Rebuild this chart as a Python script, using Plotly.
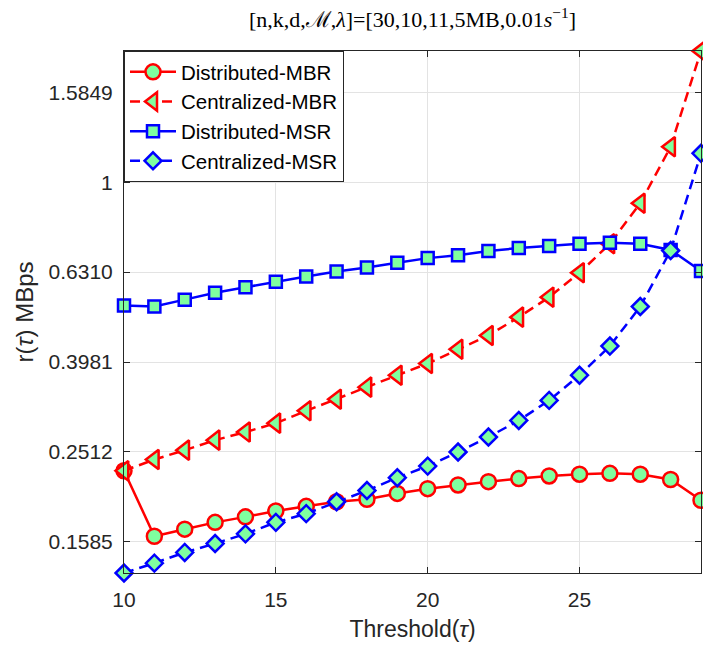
import plotly.graph_objects as go
import numpy as np

# Threshold values (x axis)
threshold = list(range(10, 30))

# Rates r(tau) in MBps for each scheme
distributed_mbr = [0.228, 0.163, 0.169, 0.175, 0.180, 0.1855, 0.190, 0.1945, 0.197, 0.203,
                   0.208, 0.212, 0.2156, 0.219, 0.222, 0.224, 0.225, 0.224, 0.218, 0.196]
centralized_mbr = [0.228, 0.2415, 0.2534, 0.2667, 0.278, 0.291, 0.310, 0.329, 0.350, 0.372,
                   0.395, 0.425, 0.456, 0.501, 0.555, 0.629, 0.730, 0.898, 1.20, 1.96]
distributed_msr = [0.532, 0.529, 0.548, 0.568, 0.584, 0.601, 0.617, 0.633, 0.646, 0.662,
                   0.678, 0.688, 0.703, 0.714, 0.721, 0.730, 0.734, 0.730, 0.707, 0.635]
centralized_msr = [0.135, 0.142, 0.150, 0.157, 0.165, 0.175, 0.183, 0.1945, 0.206, 0.220,
                   0.2335, 0.251, 0.271, 0.295, 0.327, 0.372, 0.432, 0.529, 0.705, 1.16]

# Log-scale y ticks
ytick_vals = [0.1585, 0.2512, 0.3981, 0.6310, 1.0, 1.5849]
ytick_text = ["0.1585", "0.2512", "0.3981", "0.6310", "1", "1.5849"]
xtick_vals = [10, 15, 20, 25]

FACE = "#7fff9f"
FONT = "Liberation Sans, Arial, Helvetica, sans-serif"

fig = go.Figure()

series = [
    ("Distributed-MBR", distributed_mbr, "red", "solid", "circle", 15),
    ("Centralized-MBR", centralized_mbr, "red", "10px,6px", "triangle-left", 17),
    ("Distributed-MSR", distributed_msr, "blue", "solid", "square", 12),
    ("Centralized-MSR", centralized_msr, "blue", "10px,6px", "diamond", 13),
]
for name, vals, color, dash, symbol, size in series:
    fig.add_trace(go.Scatter(
        x=threshold, y=vals, name=name, mode="lines+markers",
        line=dict(color=color, width=2.5, dash=dash),
        marker=dict(symbol=symbol, size=size, color=FACE,
                    line=dict(color=color, width=2.5)),
        cliponaxis=False,
    ))

all_vals = distributed_mbr + centralized_mbr + distributed_msr + centralized_msr
ymin, ymax = min(all_vals), max(all_vals)

fig.update_layout(
    width=703, height=647,
    margin=dict(l=124, r=2, t=51, b=74),
    paper_bgcolor="white", plot_bgcolor="white",
    font=dict(family=FONT, color="#262626"),
    title=dict(
        text="[n,k,d,ℳ,<i>λ</i>]=[30,10,11,5MB,0.01<i>s</i><sup>−1</sup>]",
        font=dict(family="Liberation Serif, Times New Roman, serif", size=22, color="#000000"),
        x=0.5867, xanchor="center", y=0.97, yanchor="middle",
    ),
    xaxis=dict(
        range=[min(threshold), max(threshold)],
        tickvals=xtick_vals, ticks="inside", ticklen=6, tickcolor="#262626",
        showline=True, linecolor="#262626", linewidth=1, mirror="ticks",
        showgrid=True, gridcolor="#e3e3e3", gridwidth=1, zeroline=False,
        tickfont=dict(size=21, color="#262626"), ticklabelstandoff=8,
        title=dict(text="Threshold(<i>τ</i>)", font=dict(size=23, color="#262626"), standoff=10),
    ),
    yaxis=dict(
        type="log", range=[np.log10(ymin), np.log10(ymax)],
        tickvals=ytick_vals, ticktext=ytick_text,
        ticks="inside", ticklen=6, tickcolor="#262626",
        showline=True, linecolor="#262626", linewidth=1, mirror="ticks",
        showgrid=True, gridcolor="#e3e3e3", gridwidth=1, zeroline=False,
        tickfont=dict(size=21, color="#262626"), ticklabelstandoff=6,
        title=dict(text="r(<i>τ</i>) MBps", font=dict(size=24, color="#262626"), standoff=8),
    ),
    legend=dict(
        x=0, y=1, xanchor="left", yanchor="top",
        bgcolor="white", bordercolor="#262626", borderwidth=1,
        font=dict(size=20.5, color="#000000"),
        itemwidth=46, tracegroupgap=0,
    ),
    showlegend=True,
)

fig.write_html("out.html")
